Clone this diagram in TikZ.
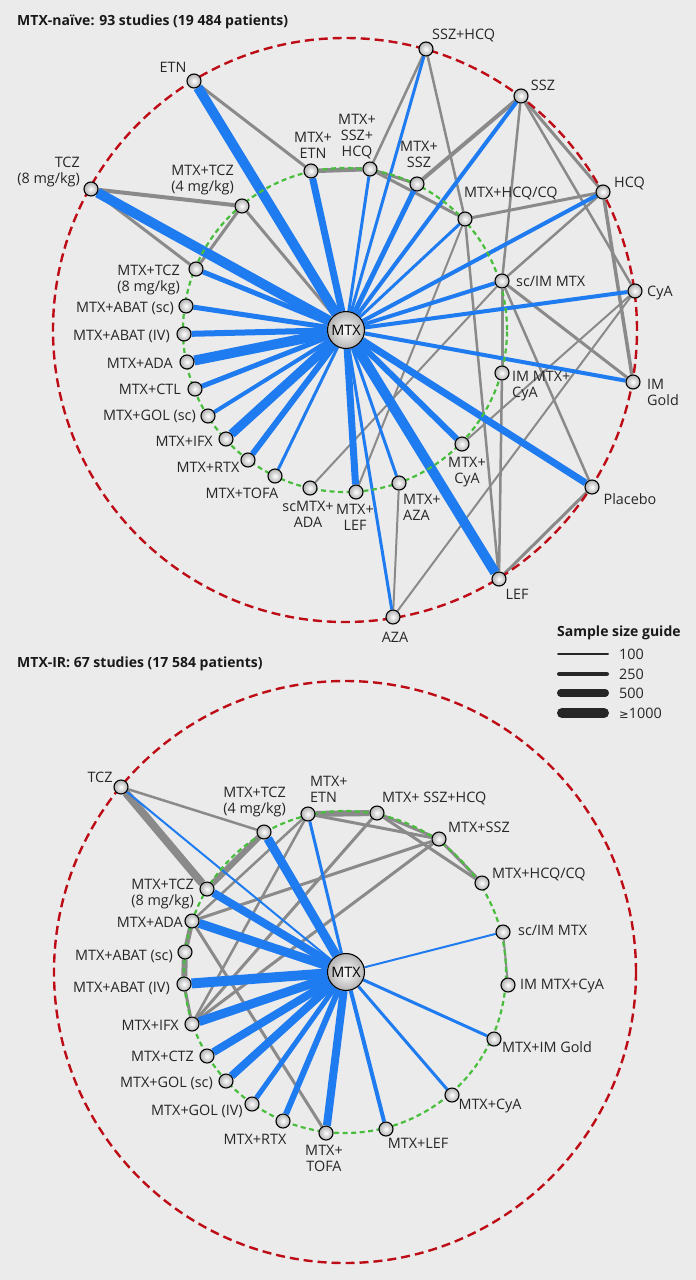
\documentclass[tikz,border=0pt]{standalone}
\usepackage{fontspec}
\setmainfont{Open Sans}
\newfontfamily\symfont{DejaVu Sans}
\usetikzlibrary{positioning,backgrounds}

\definecolor{netblue}{RGB}{31,123,240}
\definecolor{netgrey}{RGB}{138,138,138}
\definecolor{ringred}{RGB}{190,12,22}
\definecolor{ringgreen}{RGB}{72,190,60}
\definecolor{paper}{RGB}{235,235,235}
\newcommand\lblfont{\fontsize{14.4}{16}\selectfont}
\newcommand\ttlfont{\fontsize{14}{16}\selectfont\bfseries}
\newcommand\geqk{{\symfont\fontsize{11.5}{12}\selectfont ≥}1000}

\begin{document}
\begin{tikzpicture}[x=1pt, y=-1pt,
    dot/.style={circle, draw=black, line width=1.1pt, inner sep=0pt, minimum size=14pt, inner color=white, outer color=black!30},
    hub/.style={dot, minimum size=37pt, font=\lblfont},
    lbl/.style={inner sep=0pt, font=\lblfont, text=black!85},
    ttl/.style={inner sep=0pt, font=\ttlfont, text=black!90, anchor=west},
    greyedge/.style={draw=netgrey},
    blueedge/.style={draw=netblue},
    guideline/.style={draw=black!85, line cap=round},
    outerring/.style={draw=ringred, line width=2.4pt, dash pattern=on 9pt off 5pt},
    innerring/.style={draw=ringgreen, line width=2.2pt, dash pattern=on 5pt off 3.5pt}]

    \useasboundingbox (0,0) rectangle (696,1280);

    % ---------- MTX-naive network ----------
    \node[ttl] (a-title) at (17,22) {MTX-naïve: 93 studies (19 484 patients)};

    \node[hub] (a-mtx) at (346,330) {MTX};
    \node[dot] (a-etn) at (194,81) {};
    \node[dot] (a-tcz8) at (91,189) {};
    \node[dot] (a-mtcz4) at (242,206) {};
    \node[dot] (a-mtcz8) at (196,269) {};
    \node[dot] (a-mabsc) at (186,306) {};
    \node[dot] (a-mabiv) at (184,334) {};
    \node[dot] (a-mada) at (187,362) {};
    \node[dot] (a-mctl) at (195,389) {};
    \node[dot] (a-mgol) at (208,416) {};
    \node[dot] (a-mifx) at (226,439) {};
    \node[dot] (a-mrtx) at (248,460) {};
    \node[dot] (a-mtofa) at (275,476) {};
    \node[dot] (a-scada) at (310,488) {};
    \node[dot] (a-mlef) at (356,492) {};
    \node[dot] (a-maza) at (399,483) {};
    \node[dot] (a-mcya) at (462,444) {};
    \node[dot] (a-imcya) at (502,373) {};
    \node[dot] (a-scim) at (502,281) {};
    \node[dot] (a-mhcq) at (465,219) {};
    \node[dot] (a-mssz) at (417,184) {};
    \node[dot] (a-msh) at (370,169) {};
    \node[dot] (a-metn) at (311,171) {};
    \node[dot] (a-sh) at (426,49) {};
    \node[dot] (a-ssz) at (521,96) {};
    \node[dot] (a-hcq) at (603,192) {};
    \node[dot] (a-cya) at (635,291) {};
    \node[dot] (a-gold) at (633,382) {};
    \node[dot] (a-plac) at (592,487) {};
    \node[dot] (a-lef) at (499,579) {};
    \node[dot] (a-aza) at (393,617) {};

    % labels
    \node[lbl] (a-etn-t) at (173,67) {ETN};
    \node[lbl, align=right, anchor=east] (a-tcz8-t) at (80,172) {TCZ\\(8 mg/kg)};
    \node[lbl, align=right, anchor=east] (a-mtcz4-t) at (234,180) {MTX+TCZ\\(4 mg/kg)};
    \node[lbl, align=right, anchor=east] (a-mtcz8-t) at (180,280) {MTX+TCZ\\(8 mg/kg)};
    \node[lbl, anchor=east] (a-mabsc-t) at (174,308) {MTX+ABAT (sc)};
    \node[lbl, anchor=east] (a-mabiv-t) at (170,336) {MTX+ABAT (IV)};
    \node[lbl, anchor=east] (a-mada-t) at (173,363) {MTX+ADA};
    \node[lbl, anchor=east] (a-mctl-t) at (181,389) {MTX+CTL};
    \node[lbl, anchor=east] (a-mgol-t) at (196,416) {MTX+GOL (sc)};
    \node[lbl, anchor=east] (a-mifx-t) at (213,441) {MTX+IFX};
    \node[lbl] (a-mrtx-t) at (208,467) {MTX+RTX};
    \node[lbl] (a-mtofa-t) at (242,493) {MTX+TOFA};
    \node[lbl, align=center] (a-scada-t) at (308,514) {scMTX+\\ADA};
    \node[lbl, align=center] (a-mlef-t) at (355,517) {MTX+\\LEF};
    \node[lbl, align=left, anchor=west] (a-maza-t) at (403,507) {MTX+\\AZA};
    \node[lbl, align=center] (a-mcya-t) at (467,472) {MTX+\\CyA};
    \node[lbl, align=left, anchor=west] (a-imcya-t) at (512,386) {IM MTX+\\CyA};
    \node[lbl, align=left, anchor=west] (a-gold-t) at (647,392) {IM\\Gold};
    \node[lbl] (a-plac-t) at (630,499) {Placebo};
    \node[lbl] (a-lef-t) at (517,594) {LEF};
    \node[lbl] (a-aza-t) at (395,637) {AZA};
    \node[lbl, anchor=west] (a-scim-t) at (516,281) {sc/IM MTX};
    \node[lbl, anchor=west] (a-cya-t) at (647,293) {CyA};
    \node[lbl, anchor=west] (a-hcq-t) at (614,183) {HCQ};
    \node[lbl, anchor=west] (a-mhcq-t) at (464,193) {MTX+HCQ/CQ};
    \node[lbl, align=center] (a-mssz-t) at (419,154) {MTX+\\SSZ};
    \node[lbl, align=center] (a-msh-t) at (357,137) {MTX+\\SSZ+\\HCQ};
    \node[lbl, align=center] (a-metn-t) at (313,145) {MTX+\\ETN};
    \node[lbl] (a-ssz-t) at (543,85) {SSZ};
    \node[lbl, anchor=west] (a-sh-t) at (432,36) {SSZ+HCQ};

    % ---------- MTX-IR network ----------
    \node[ttl] (b-title) at (17,664) {MTX-IR: 67 studies (17 584 patients)};

    \node[hub] (b-mtx) at (346,972) {MTX};
    \node[dot] (b-tcz) at (121,787) {};
    \node[dot] (b-mtcz4) at (264,832) {};
    \node[dot] (b-metn) at (308,814) {};
    \node[dot] (b-msh) at (377,813) {};
    \node[dot] (b-mssz) at (439,839) {};
    \node[dot] (b-mhcq) at (482,883) {};
    \node[dot] (b-scim) at (503,932) {};
    \node[dot] (b-imcya) at (508,985) {};
    \node[dot] (b-mgold) at (494,1039) {};
    \node[dot] (b-mcya) at (452,1095) {};
    \node[dot] (b-mlef) at (386,1129) {};
    \node[dot] (b-mtofa) at (326,1133) {};
    \node[dot] (b-mrtx) at (283,1121) {};
    \node[dot] (b-mgoliv) at (252,1104) {};
    \node[dot] (b-mgolsc) at (226,1081) {};
    \node[dot] (b-mctz) at (207,1056) {};
    \node[dot] (b-mifx) at (192,1024) {};
    \node[dot] (b-mabiv) at (184,984) {};
    \node[dot] (b-mabsc) at (185,952) {};
    \node[dot] (b-mada) at (192,921) {};
    \node[dot] (b-mtcz8) at (207,889) {};

    % labels
    \node[lbl] (b-tcz-t) at (100,777) {TCZ};
    \node[lbl, align=right, anchor=east] (b-mtcz4-t) at (286,802) {MTX+TCZ\\(4 mg/kg)};
    \node[lbl, align=left, anchor=west] (b-metn-t) at (310,789) {MTX+\\ETN};
    \node[lbl, align=right, anchor=east] (b-mtcz8-t) at (194,894) {MTX+TCZ\\(8 mg/kg)};
    \node[lbl, anchor=east] (b-mada-t) at (183,922) {MTX+ADA};
    \node[lbl, anchor=east] (b-mabsc-t) at (173,956) {MTX+ABAT (sc)};
    \node[lbl, anchor=east] (b-mabiv-t) at (170,988) {MTX+ABAT (IV)};
    \node[lbl, anchor=east] (b-mifx-t) at (179,1025) {MTX+IFX};
    \node[lbl, anchor=east] (b-mctz-t) at (194,1056) {MTX+CTZ};
    \node[lbl, anchor=east] (b-mgolsc-t) at (213,1083) {MTX+GOL (sc)};
    \node[lbl] (b-mgoliv-t) at (197,1111) {MTX+GOL (IV)};
    \node[lbl] (b-mrtx-t) at (255,1139) {MTX+RTX};
    \node[lbl, align=center] (b-mtofa-t) at (324,1158) {MTX+\\TOFA};
    \node[lbl] (b-mlef-t) at (418,1143) {MTX+LEF};
    \node[lbl] (b-mcya-t) at (490,1106) {MTX+CyA};
    \node[lbl] (b-mgold-t) at (547,1047) {MTX+IM Gold};
    \node[lbl, anchor=west] (b-imcya-t) at (520,986) {IM MTX+CyA};
    \node[lbl, anchor=west] (b-scim-t) at (518,930) {sc/IM MTX};
    \node[lbl, anchor=west] (b-mhcq-t) at (492,874) {MTX+HCQ/CQ};
    \node[lbl, anchor=west] (b-mssz-t) at (448,827) {MTX+SSZ};
    \node[lbl, anchor=west] (b-msh-t) at (382,798) {MTX+ SSZ+HCQ};

    % sample size guide
    \node[ttl] (guide) at (557,633) {Sample size guide};
    \foreach \yy/\ww/\gtxt [count=\k] in {654/2/100, 674/4.5/250, 693/7.5/500, 713/10/\geqk} {
        \coordinate (g\k-a) at ({557+\ww/2},\yy);
        \coordinate (g\k-b) at ({609-\ww/2},\yy);
        \draw[guideline, line width=\ww pt] (g\k-a) -- (g\k-b);
        \node[lbl, anchor=west] (g\k-t) at (619,\yy) {\gtxt};
    }

    \begin{scope}[on background layer]
        \fill[paper] (0,0) rectangle (696,1280);

        % grey edges
        \foreach \p/\q/\w in {a-etn/a-metn/3, a-tcz8/a-mtcz4/4, a-tcz8/a-mtcz8/3, a-mtcz4/a-mtcz8/3,
            a-mtcz4/a-mtx/3, a-metn/a-msh/4.5, a-msh/a-mssz/3, a-msh/a-mhcq/3, a-msh/a-sh/2.5,
            a-sh/a-mhcq/2.5, a-mssz/a-ssz/4, a-ssz/a-hcq/3, a-ssz/a-scim/2.5, a-ssz/a-cya/2.5,
            a-hcq/a-mhcq/3, a-hcq/a-scim/2.5, a-hcq/a-gold/3.5, a-scim/a-gold/3, a-scim/a-plac/2.5,
            a-scim/a-scada/2, a-scim/a-imcya/3, a-imcya/a-lef/2.5, a-mhcq/a-lef/2.5, a-mhcq/a-mlef/2,
            a-cya/a-aza/2, a-cya/a-mcya/2, a-aza/a-maza/2, a-lef/a-plac/3,
            b-tcz/b-mtcz4/2.5, b-tcz/b-mtcz8/8, b-mtcz4/b-mtcz8/6, b-metn/b-msh/6, b-metn/b-mssz/3,
            b-msh/b-mssz/3, b-msh/b-mhcq/3, b-mssz/b-mhcq/3, b-msh/b-mifx/3, b-mssz/b-mada/3,
            b-mssz/b-mifx/3, b-metn/b-mada/2.5, b-metn/b-mifx/2.5, b-mada/b-mtofa/3,
            b-mada/b-mabsc/5, b-mabsc/b-mabiv/6, b-mabiv/b-mifx/3, b-scim/b-imcya/2}
            \draw[greyedge, line width=\w pt] (\p) -- (\q);

        % blue edges to MTX
        \foreach \q/\w in {a-etn/10, a-tcz8/10, a-mtcz8/5, a-mabsc/5, a-mabiv/6, a-mada/10, a-mctl/5,
            a-mgol/4, a-mifx/9, a-mrtx/6, a-mtofa/3, a-mlef/7, a-aza/3, a-maza/3, a-lef/10, a-mcya/6,
            a-plac/7, a-gold/4, a-cya/4, a-scim/4, a-hcq/4, a-mhcq/3, a-ssz/4, a-mssz/5, a-sh/3,
            a-msh/3, a-metn/7}
            \draw[blueedge, line width=\w pt] (a-mtx) -- (\q);
        \foreach \q/\w in {b-tcz/2, b-mtcz4/9, b-metn/3, b-mtcz8/8, b-mada/9, b-mabiv/10, b-mifx/9,
            b-mctz/8, b-mgolsc/8, b-mgoliv/5, b-mrtx/6, b-mtofa/8, b-mlef/4, b-mcya/3, b-mgold/3,
            b-scim/2}
            \draw[blueedge, line width=\w pt] (b-mtx) -- (\q);

        % rings
        \draw[outerring] (345,330) circle[radius=292pt];
        \draw[innerring] (345,330) circle[radius=162pt];
        \draw[outerring] (345,972) circle[radius=291pt];
        \draw[innerring] (345,972) circle[radius=161pt];
    \end{scope}

\end{tikzpicture}
\end{document}
